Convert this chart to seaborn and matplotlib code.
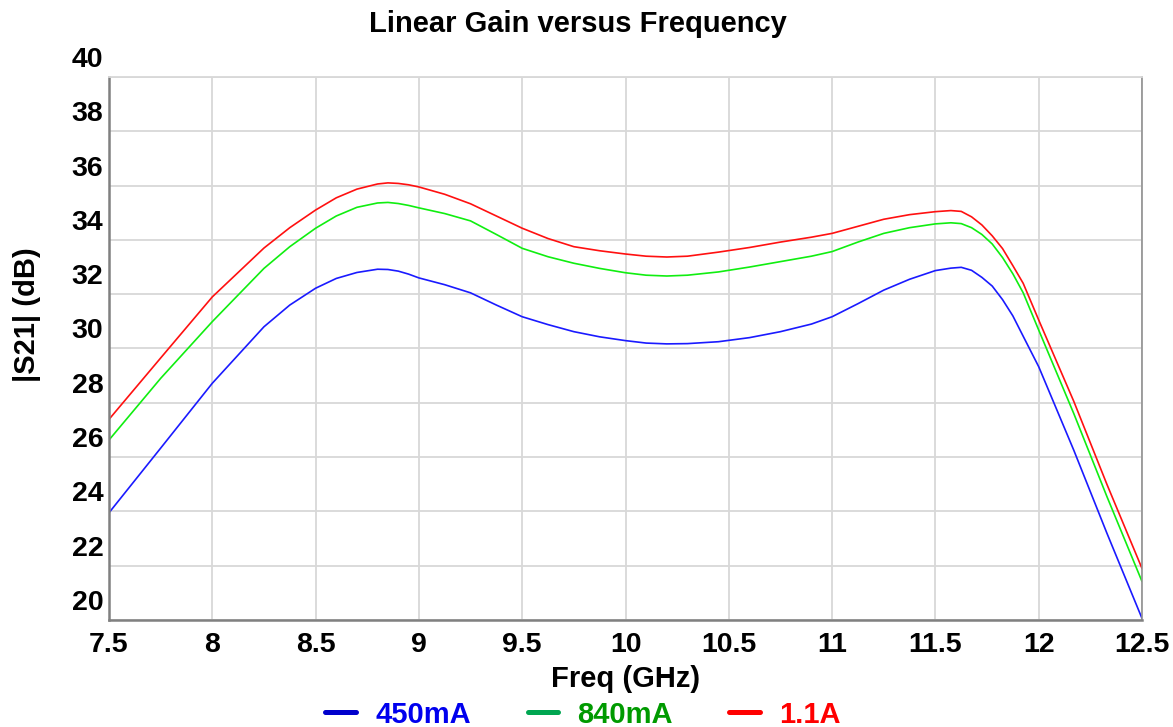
import matplotlib
matplotlib.use("Agg")
import matplotlib.pyplot as plt
from matplotlib.lines import Line2D
from matplotlib.ticker import MultipleLocator
from matplotlib.transforms import ScaledTranslation
import seaborn as sns
import pandas as pd

# values
freq = [7.5, 7.75, 8.0, 8.25, 8.375, 8.5, 8.6, 8.7, 8.8, 8.85, 8.9, 8.95, 9.0,
        9.125, 9.25, 9.375, 9.5, 9.625, 9.75, 9.875, 10.0, 10.1, 10.2, 10.3,
        10.45, 10.6, 10.75, 10.9, 11.0, 11.125, 11.25, 11.375, 11.5, 11.575,
        11.625, 11.675, 11.725, 11.775, 11.825, 11.875, 11.925, 12.0, 12.17,
        12.33, 12.5]

gain_450 = [23.95, 26.33, 28.72, 30.8, 31.6, 32.22, 32.58, 32.8, 32.92, 32.91,
            32.85, 32.74, 32.6, 32.35, 32.05, 31.6, 31.17, 30.88, 30.62, 30.43,
            30.29, 30.2, 30.17, 30.18, 30.25, 30.4, 30.62, 30.9, 31.17, 31.65,
            32.15, 32.55, 32.87, 32.96, 32.99, 32.88, 32.62, 32.3, 31.8, 31.2,
            30.45, 29.33, 26.25, 23.2, 20.06]
gain_840 = [26.63, 28.9, 30.99, 32.95, 33.75, 34.43, 34.88, 35.2, 35.36, 35.38,
            35.34, 35.27, 35.18, 34.97, 34.7, 34.2, 33.69, 33.38, 33.14, 32.95,
            32.79, 32.7, 32.67, 32.7, 32.82, 33.0, 33.2, 33.4, 33.57, 33.92,
            34.24, 34.45, 34.59, 34.63, 34.6, 34.45, 34.2, 33.85, 33.35, 32.75,
            32.05, 30.68, 27.6, 24.55, 21.42]
gain_1100 = [27.39, 29.65, 31.9, 33.7, 34.45, 35.1, 35.55, 35.87, 36.06, 36.1,
             36.08, 36.03, 35.95, 35.68, 35.33, 34.88, 34.43, 34.05, 33.75, 33.6,
             33.48, 33.4, 33.37, 33.4, 33.55, 33.72, 33.92, 34.1, 34.24, 34.5,
             34.76, 34.93, 35.04, 35.08, 35.05, 34.85, 34.55, 34.15, 33.68, 33.05,
             32.4, 31.05, 28.05, 25.0, 21.9]

labels = ["450mA", "840mA", "1.1A"]
line_colors = {"450mA": "#1a1aff", "840mA": "#10ee10", "1.1A": "#ff1010"}
text_colors = ["#0000ee", "#009a00", "#ff0000"]
handle_colors = ["#0000cc", "#00a651", "#ff0000"]

df = pd.DataFrame({
    "freq": freq * 3,
    "gain": gain_450 + gain_840 + gain_1100,
    "bias": [labels[0]] * len(freq) + [labels[1]] * len(freq) + [labels[2]] * len(freq),
})

sns.set_style("white")
plt.rcParams["font.family"] = ["Liberation Sans", "DejaVu Sans"]
plt.rcParams["font.weight"] = "bold"
plt.rcParams["text.color"] = "black"
plt.rcParams["axes.labelcolor"] = "black"
plt.rcParams["xtick.labelcolor"] = "black"
plt.rcParams["ytick.labelcolor"] = "black"

fig = plt.figure(figsize=(11.73, 7.27), dpi=100)
ax = fig.add_axes([109 / 1173, 1 - 620 / 727, 1033 / 1173, 543 / 727])

sns.lineplot(data=df, x="freq", y="gain", hue="bias", palette=line_colors,
             linewidth=1.2, legend=False, ax=ax)

ax.set_xlim(7.5, 12.5)
ax.set_ylim(20, 40)
ax.xaxis.set_minor_locator(MultipleLocator(0.125))
ax.yaxis.set_major_locator(MultipleLocator(2))
ax.yaxis.set_minor_locator(MultipleLocator(1))
ax.set_xticks([7.5, 8, 8.5, 9, 9.5, 10, 10.5, 11, 11.5, 12, 12.5])
ax.set_xticklabels(["7.5", "8", "8.5", "9", "9.5", "10", "10.5", "11", "11.5", "12", "12.5"])

ax.grid(True, which="major", color="#d8d8d8", linewidth=1.3)
ax.tick_params(axis="both", which="major", length=0, labelsize=20.5,
               labelcolor="black")
ax.tick_params(axis="x", which="major", pad=9)
ax.tick_params(axis="y", which="major", pad=4)
ax.tick_params(axis="both", which="minor", direction="in", length=4,
               color="#a0a0a0", width=1)
for lab in ax.get_xticklabels() + ax.get_yticklabels():
    lab.set_fontweight("bold")
# y labels sit above their gridlines in the reference
for lab in ax.get_yticklabels():
    lab.set_transform(lab.get_transform() + ScaledTranslation(0, 0.2, fig.dpi_scale_trans))

for side in ["left", "bottom"]:
    ax.spines[side].set_color("#808080")
    ax.spines[side].set_linewidth(1.8)
ax.spines["right"].set_color("#909090")
ax.spines["right"].set_linewidth(1.2)
ax.spines["top"].set_color("#d8d8d8")
ax.spines["top"].set_linewidth(1.3)

ax.set_xlabel("Freq (GHz)", fontsize=21, fontweight="bold", labelpad=5,
              color="black")
ax.set_ylabel("|S21| (dB)", fontsize=21, fontweight="bold", color="black")
ax.yaxis.set_label_coords(-0.066, 0.562)

fig.text(0.493, 0.967, "Linear Gain versus Frequency", fontsize=21,
         fontweight="bold", ha="center", va="center", color="black")

handles = [Line2D([0], [0], color=c, lw=3.6) for c in handle_colors]
leg = fig.legend(handles, labels, loc="center", bbox_to_anchor=(0.497, 0.017),
                 ncol=3, frameon=False, handlelength=1.05, handletextpad=0.65,
                 columnspacing=1.95, prop={"size": 21, "weight": "bold"})
for txt, c in zip(leg.get_texts(), text_colors):
    txt.set_color(c)

fig.savefig("out.png", dpi=100)
